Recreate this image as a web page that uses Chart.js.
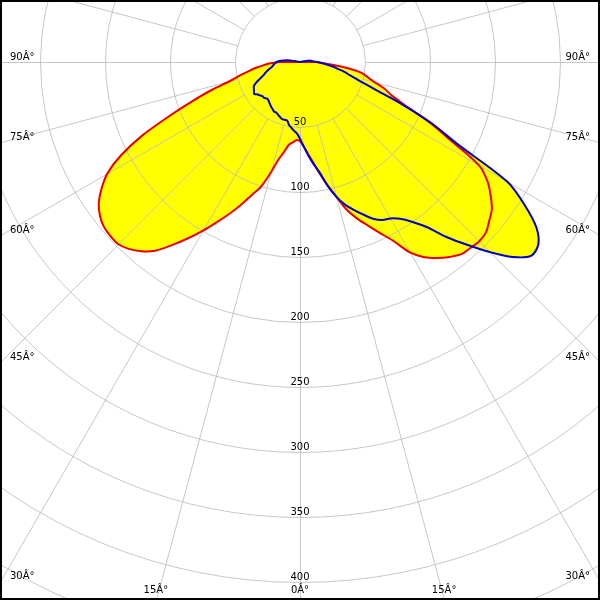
<!DOCTYPE html>
<html>
<head>
<meta charset="utf-8">
<script src="https://cdn.jsdelivr.net/npm/chart.js@4.4.0/dist/chart.umd.min.js"></script>
<style>
html,body{margin:0;padding:0;background:#fff;overflow:hidden;width:600px;height:600px}
#view{position:relative;width:600px;height:600px;overflow:hidden;background:#fff}
#c{position:absolute;left:-350px;top:-588px}
</style>
</head>
<body>
<div id="view"><canvas id="c" width="1300" height="1300" style="width:1300px;height:1300px"></canvas></div>
<script>
// Polar angle gamma (deg): 0 = straight down, negative = left half, positive = right half
const gammaStart = -180, gammaStep = 2.5, gammaCount = 144;
const gammaDeg = [];
for (let k = 0; k < gammaCount; k++) gammaDeg.push(gammaStart + k * gammaStep);

// Luminous intensity, plane 1 (red outline, yellow fill), gamma -180 .. 177.5
const planeRed = [
  0,0,0,0,0,0,0,0,0,0,
  0,0,0,0,0,0,0,0,0,0,
  0,0,0,0,0,0,0,0,0,0,
  0,0,0,0,0,0,
  15,23,28,34,40,47,55,71,88,109,134,155,171,181,189,194,197,198,198,195,
  190,183,172,161,150,139,129,119,109,101,89,77,70,64,62,60,61,65,71,78,
  87,97,107,119,128,136,145,155,169,178,184,189,193,194,195,194,190,186,179,171,
  159,131,110,88,75,68,59,53,48,38,26,16,13,
  0,0,0,0,0,0,0,0,0,0,
  0,0,0,0,0,0,0,0,0,0,
  0,0,0,0,0,0,0,0,0,0,
  0,0,0,0,0
];
// Luminous intensity, plane 2 (blue outline)
const planeBlue = [
  0,0,0,0,0,0,0,0,0,0,
  0,0,0,0,0,0,0,0,0,0,
  0,0,0,0,0,0,0,0,0,0,
  0,0,
  5,10,13,16,18,19,20,21,22,24,26,28,30,33,37,40,41,42,43,41,
  40,39,39,38,38,39,40,41,42,43,43,44,45,46,46,46,49,51,53,55,
  59,65,72,79,86,97,107,115,121,127,133,137,139,143,150,160,176,191,207,222,
  232,231,222,205,184,136,112,85,61,48,40,35,29,25,20,17,13,11,9,8,
  6,3,
  0,0,0,0,0,0,0,0,0,0,
  0,0,0,0,0,0,0,0,0,0,
  0,0,0,0,0,0,0,0,0,0
];
const ringValues = [50,100,150,200,250,300,350,400,450];
const angleLabelValues = [90,75,60,45,30,15,0];
const radialLineStep = 15;

// view window inside the big canvas
const VIEW = {left: 350, top: 588, size: 600};

// radar order: index 0 at top, clockwise  -> reverse gamma order
const radarGamma = gammaDeg.slice().reverse();
const radarRed = planeRed.slice().reverse();
const radarBlue = planeBlue.slice().reverse();
const startAngle = 180 - radarGamma[0];

function indexOfGamma(g) {
  let i = Math.round((radarGamma[0] - g) / gammaStep);
  return ((i % gammaCount) + gammaCount) % gammaCount;
}

const GRID_COLOR = 'rgba(185,185,185,0.8)';
const FONT = '10px "DejaVu Sans", Verdana, sans-serif';
const YELLOW = '#ffff00';
const TENSION = 0.3;

function drawGrid(chart) {
  const s = chart.scales.r, ctx = chart.ctx;
  ctx.save();
  ctx.translate(0.5, 0.5);
  ctx.strokeStyle = GRID_COLOR;
  ctx.lineWidth = 1;
  ringValues.forEach(v => {
    ctx.beginPath();
    ctx.arc(s.xCenter, s.yCenter, s.getDistanceFromCenterForValue(v), 0, Math.PI * 2);
    ctx.stroke();
  });
  const r0 = s.getDistanceFromCenterForValue(ringValues[0]);
  const r1 = s.getDistanceFromCenterForValue(s.max) * 1.3;
  for (let g = -180; g < 180; g += radialLineStep) {
    const idx = indexOfGamma(g);
    const a = s.getPointPosition(idx, r0), b = s.getPointPosition(idx, r1);
    ctx.beginPath();
    ctx.moveTo(a.x, a.y);
    ctx.lineTo(b.x, b.y);
    ctx.stroke();
  }
  ctx.restore();
}

let gridDone = false;
const photometricPlugin = {
  id: 'photometric',
  beforeDraw() { gridDone = false; },
  beforeDatasetDraw(chart, args) {
    // grid goes on top of the yellow fills, under the outlines
    const ds = chart.data.datasets[args.index];
    if (!gridDone && ds.fill === false) { drawGrid(chart); gridDone = true; }
  },
  afterDatasetsDraw(chart) {
    const s = chart.scales.r, ctx = chart.ctx;
    ctx.save();
    ctx.font = FONT;
    ctx.fillStyle = '#000';
    ctx.textAlign = 'center';
    ctx.textBaseline = 'alphabetic';
    ringValues.forEach(v => {
      const d = s.getDistanceFromCenterForValue(v);
      ctx.fillText(String(v), s.xCenter, s.yCenter + d - 2.5);
    });
    const L = VIEW.left, R = VIEW.left + VIEW.size, B = VIEW.top + VIEW.size;
    const cx = s.xCenter, cy = s.yCenter;
    angleLabelValues.forEach(a => {
      const sides = a === 0 ? [0] : [-a, a];
      sides.forEach(g => {
        const p = s.getPointPosition(indexOfGamma(g), 1000);
        const dx = (p.x - cx) / 1000, dy = (p.y - cy) / 1000;
        let tx = Infinity, ty = Infinity;
        if (dx < -1e-6) tx = (L - cx) / dx;
        else if (dx > 1e-6) tx = (R - cx) / dx;
        if (dy > 1e-6) ty = (B - cy) / dy;
        const text = a + 'Â°';
        if (tx <= ty) {
          const hy = cy + dy * tx;
          ctx.textAlign = dx < 0 ? 'left' : 'right';
          ctx.fillText(text, dx < 0 ? L + 10 : R - 10, hy - 2.5);
        } else {
          const hx = cx + dx * ty;
          ctx.textAlign = 'center';
          ctx.fillText(text, hx, B - 7);
        }
      });
    });
    ctx.strokeStyle = '#000';
    ctx.lineWidth = 2;
    ctx.strokeRect(VIEW.left + 1, VIEW.top + 1, VIEW.size - 2, VIEW.size - 2);
    ctx.restore();
  }
};

new Chart(document.getElementById('c'), {
  type: 'radar',
  data: {
    labels: radarGamma.map(g => g + '°'),
    datasets: [
      {label: 'Plane 2', data: radarBlue, order: 1,
       borderColor: 'rgb(0,0,200)', borderWidth: 2, fill: false, pointRadius: 0, borderJoinStyle: 'round'},
      {label: 'Plane 1', data: radarRed, order: 2,
       borderColor: 'rgb(235,0,0)', borderWidth: 2, fill: false, pointRadius: 0, borderJoinStyle: 'round'},
      {label: 'Plane 2 area', data: radarBlue, order: 3,
       borderWidth: 0, borderColor: 'rgba(0,0,0,0)', backgroundColor: YELLOW, fill: 'origin', pointRadius: 0},
      {label: 'Plane 1 area', data: radarRed, order: 4,
       borderWidth: 0, borderColor: 'rgba(0,0,0,0)', backgroundColor: YELLOW, fill: 'origin', pointRadius: 0}
    ]
  },
  options: {
    responsive: false,
    animation: false,
    devicePixelRatio: 1,
    layout: {padding: 0},
    elements: {line: {tension: TENSION}, point: {radius: 0}},
    plugins: {
      legend: {display: false},
      tooltip: {enabled: false}
    },
    scales: {
      r: {
        min: 0,
        max: 500,
        startAngle: startAngle,
        ticks: {display: false, stepSize: 50},
        grid: {display: false},
        angleLines: {display: false},
        pointLabels: {display: false}
      }
    }
  },
  plugins: [photometricPlugin]
});
</script>
</body>
</html>
